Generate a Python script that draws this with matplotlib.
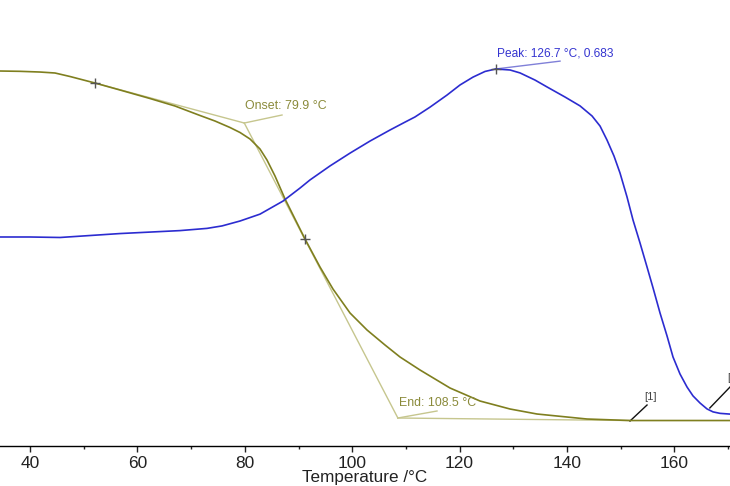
import matplotlib
matplotlib.use("Agg")
import matplotlib.pyplot as plt
from matplotlib.ticker import MultipleLocator

plt.rcParams['font.family'] = ['Liberation Sans', 'DejaVu Sans']

# ---- data ----
tg_temp = [34.41, 38.14, 41.86, 44.66, 47.45, 52.10, 56.76, 62.35, 67.00, 71.66,
           74.45, 77.24, 79.11, 80.97, 82.83, 84.13, 85.62, 87.49, 89.35, 91.21,
           94.00, 96.42, 99.59, 102.76, 106.11, 108.90, 112.63, 118.21, 123.80,
           129.39, 134.41, 143.72, 151.73, 161.04, 170.35]
tg_mass = [100.0, 99.91, 99.71, 99.43, 98.43, 96.57, 94.57, 92.14, 90.0, 87.29,
           85.71, 83.86, 82.43, 80.57, 77.71, 74.57, 70.0, 63.43, 57.71, 52.0,
           44.0, 37.71, 30.86, 26.0, 21.71, 18.29, 14.57, 9.43, 5.71,
           3.43, 2.0, 0.57, 0.14, 0.14, 0.14]

dsc_temp = [34.41, 40.0, 45.59, 51.17, 56.76, 62.35, 67.93, 72.96, 75.75, 79.11,
            82.83, 87.11, 90.28, 92.14, 95.87, 99.59, 103.31, 107.04, 109.83,
            111.69, 114.49, 117.65, 120.07, 122.49, 124.73, 126.7, 129.39, 131.25,
            134.04, 136.28, 139.63, 142.42, 144.66, 146.15, 147.45, 148.75, 149.87,
            151.17, 152.29, 153.59, 154.90, 156.02, 157.32, 158.62, 159.74, 161.04,
            162.35, 163.46, 164.77, 166.07, 167.19, 168.49, 170.35]
dsc_val = [0.0, 0.0, -0.002, 0.006, 0.014, 0.020, 0.026, 0.035, 0.045, 0.065,
           0.093, 0.146, 0.199, 0.232, 0.289, 0.341, 0.390, 0.435, 0.467,
           0.488, 0.528, 0.577, 0.618, 0.650, 0.673, 0.683, 0.679, 0.667,
           0.638, 0.610, 0.569, 0.533, 0.492, 0.451, 0.394, 0.329, 0.260,
           0.163, 0.069, -0.024, -0.122, -0.207, -0.309, -0.402, -0.488, -0.557,
           -0.610, -0.646, -0.675, -0.699, -0.711, -0.717, -0.720]

tick_values = [40, 60, 80, 100, 120, 140, 160]

onset_temp, onset_mass = 79.9, 85.14
end_temp, end_mass = 108.5, 0.857
tangent_start = (52.10, 96.57)
inflection = (91.21, 52.0)
baseline_end = (151.73, 0.14)
peak_temp, peak_val = 126.7, 0.683

# ---- colours ----
c_tg = '#7f7f1f'
c_dsc = '#2c2cd0'
c_tan = '#c6c68e'
c_tgtext = '#8a8a3a'
c_dsctext = '#3434d0'
c_mark = '#555555'

fig = plt.figure(figsize=(7.3, 4.86), dpi=100)
ax = fig.add_axes([0, 40/486, 1, 446/486])
ax2 = ax.twinx()

ax.set_xlim(34.41, 170.35)
ax.set_ylim(-7.14, 120.29)
ax2.set_ylim(-0.8497, 0.9635)

for a in (ax, ax2):
    for s in ('top', 'left', 'right'):
        a.spines[s].set_visible(False)
    a.set_yticks([])
    a.patch.set_visible(False)
ax.spines['bottom'].set_linewidth(1.0)
ax2.spines['bottom'].set_visible(False)

ax.set_xticks(tick_values)
ax.set_xticklabels([str(v) for v in tick_values])
ax.xaxis.set_minor_locator(MultipleLocator(10))
ax.tick_params(axis='x', which='major', direction='out', length=4, width=1,
               labelsize=12.5, pad=3, colors='#222222')
ax.tick_params(axis='x', which='minor', direction='out', length=2.5, width=1,
               colors='#222222')
ax.set_xlabel('Temperature /°C', fontsize=12.3, labelpad=-0.5, color='#222222')

# tangent construction (light)
ax.plot([tangent_start[0], onset_temp], [tangent_start[1], onset_mass],
        color=c_tan, lw=1.0, zorder=1)
ax.plot([onset_temp, end_temp], [onset_mass, end_mass], color=c_tan, lw=1.0, zorder=1)
ax.plot([end_temp, baseline_end[0]], [end_mass, baseline_end[1]], color=c_tan,
        lw=1.0, zorder=1)

# curves
ax.plot(tg_temp, tg_mass, color=c_tg, lw=1.2, zorder=3, solid_joinstyle='round')
ax2.plot(dsc_temp, dsc_val, color=c_dsc, lw=1.2, zorder=3, solid_joinstyle='round')

# markers
ax.plot([tangent_start[0], inflection[0]], [tangent_start[1], inflection[1]],
        ls='none', marker='+', ms=7, mew=1.0, color=c_mark, zorder=4)
ax2.plot([peak_temp], [peak_val], ls='none', marker='+', ms=7, mew=1.0,
         color=c_mark, zorder=4)

# onset label
ax.plot([onset_temp, 86.93], [onset_mass, 87.43], color=c_tan, lw=1.0)
ax.text(80.1, 88.3, 'Onset: 79.9 °C', color=c_tgtext, fontsize=8.9,
        ha='left', va='bottom')
# end label
ax.plot([end_temp, 115.79], [end_mass, 2.86], color=c_tan, lw=1.0)
ax.text(108.75, 5.14, 'End: 108.5 °C', color=c_tgtext, fontsize=8.9,
        ha='left', va='center')
# peak label
ax2.plot([peak_temp, 138.7], [peak_val, 0.715], color='#8080d8', lw=1.0)
ax2.text(126.9, 0.744, 'Peak: 126.7 °C, 0.683', color=c_dsctext, fontsize=8.6,
         ha='left', va='center')

# [1] markers
ax.plot([151.73, 154.90], [0.0, 4.57], color='#111111', lw=1.0)
ax.text(155.46, 6.86, '[1]', color='#444444', fontsize=8, ha='center', va='center')
ax2.plot([166.6, 170.35], [-0.695, -0.610], color='#111111', lw=1.0, clip_on=False)
ax2.text(169.85, -0.573, '[1]', color='#444444', fontsize=8, ha='left',
         va='center', clip_on=False)

fig.savefig('out.png', dpi=100)
